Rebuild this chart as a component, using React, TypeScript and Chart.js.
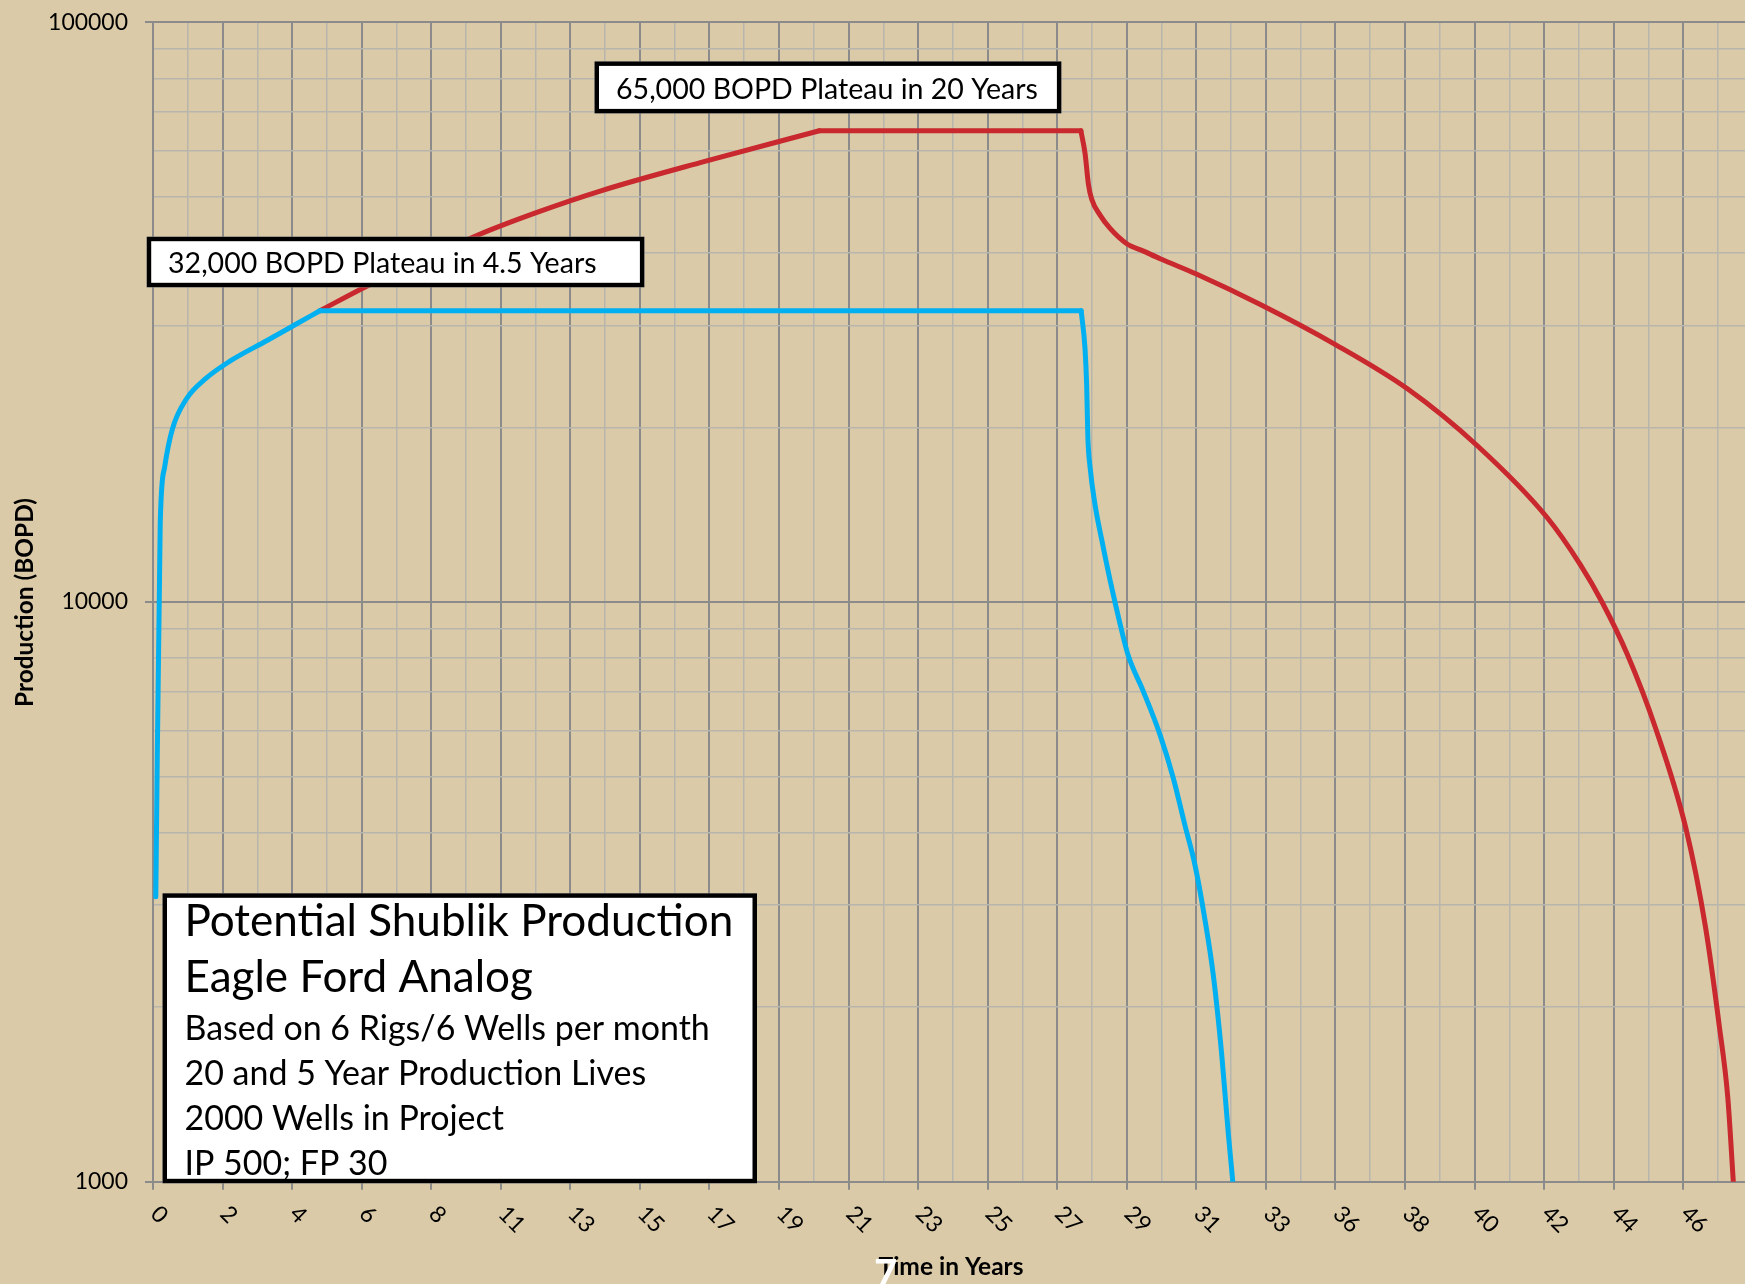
import React, { useEffect, useRef } from 'react';
import { Chart, registerables } from 'chart.js';

Chart.register(...registerables);

const W = 1745;
const H = 1284;
const FAMILY = 'Lato, "Open Sans", sans-serif';

// x axis: monthly categories, a labelled tick every 25 months (label = years)
const xTickLabels = ['0', '2', '4', '6', '8', '11', '13', '15', '17', '19', '21', '23', '25', '27', '29', '31', '33', '36', '38', '40', '42', '44', '46'];
const monthsPerTick = 25;
const xMaxMonth = 572.2;

// y axis (log) gridline values and labelled ones
const yGridValues = [1000, 2000, 3000, 4000, 5000, 6000, 7000, 8000, 9000, 10000, 20000, 30000, 40000, 50000, 60000, 70000, 80000, 90000, 100000];
const yLabelled = [1000, 10000, 100000];

// 5-year-life wells (blue)
const blueMonths = [1, 2.6, 4.2, 7, 12, 19, 27.5, 41, 52, 60, 333.6, 335, 335.6, 336, 336.8, 338.6, 341, 344, 347.6, 350.5, 355.9, 361.9, 366.7, 370.9, 374.5, 378.1, 381.1, 384.1, 386.5, 388.1];
const blueBopd = [3100, 13700, 17100, 19900, 22400, 24300, 26000, 28260, 30260, 31800, 31800, 27300, 23500, 19300, 17100, 14700, 12800, 10900, 9160, 8090, 7020, 5910, 4970, 4120, 3520, 2830, 2270, 1660, 1210, 1000];

// 20-year-life wells (red)
const redMonths = [60, 77, 117, 138, 161, 198, 239.5, 333.5, 335, 336.2, 337.4, 340.4, 344, 350, 356, 362, 375, 398, 425, 451, 476, 501, 513, 521, 530, 540, 551, 558, 563, 566, 568];
const redBopd = [31800, 35100, 43000, 47000, 51200, 57500, 65000, 65000, 59400, 52600, 49500, 46500, 44100, 41500, 40300, 39100, 36800, 32600, 27800, 23300, 18600, 14000, 11600, 9960, 8100, 6070, 4060, 2750, 1850, 1400, 1000];

const note65 = '65,000 BOPD Plateau in 20 Years';
const note32 = '32,000 BOPD Plateau in 4.5 Years';
const infoTitle = ['Potential Shublik Production', 'Eagle Ford Analog'];
const infoLines = ['Based on 6 Rigs/6 Wells per month', '20 and 5 Year Production Lives', '2000 Wells in Project', 'IP 500; FP 30'];
const xTitle = 'Time in Years';
const yTitle = 'Production (BOPD)';

const BG = '#dacaa8';
const MAJOR = '#8b8b8b';
const MINOR = '#b8b5ad';
const BLUE = '#00b0f0';
const RED = '#c8282e';

function fitSize(text: string, targetW: number, weight: string): number {
  const c = document.createElement('canvas').getContext('2d')!;
  c.font = `${weight} 100px ${FAMILY}`;
  return (100 * targetW) / c.measureText(text).width;
}

function isPow10(v: number) {
  const l = Math.log10(v);
  return Math.abs(l - Math.round(l)) < 1e-9;
}

// split a series into rise / plateau / decline pieces (at repeated values) so corners stay sharp
function pieces(months: number[], values: number[]) {
  const out: { x: number; y: number }[][] = [];
  let start = 0;
  for (let i = 0; i < values.length - 1; i++) {
    if (values[i] === values[i + 1]) {
      if (i > start) out.push(months.slice(start, i + 1).map((m, k) => ({ x: m, y: values[start + k] })));
      out.push([{ x: months[i], y: values[i] }, { x: months[i + 1], y: values[i + 1] }]);
      start = i + 1;
    }
  }
  out.push(months.slice(start).map((m, k) => ({ x: m, y: values[start + k] })));
  return out;
}

function drawBox(ctx: CanvasRenderingContext2D, x0: number, y0: number, x1: number, y1: number) {
  const lw = 4.5;
  ctx.save();
  ctx.fillStyle = '#ffffff';
  ctx.fillRect(x0, y0, x1 - x0, y1 - y0);
  ctx.strokeStyle = '#000000';
  ctx.lineWidth = lw;
  ctx.strokeRect(x0 + lw / 2, y0 + lw / 2, x1 - x0 - lw, y1 - y0 - lw);
  ctx.restore();
}

export default function App() {
  const ref = useRef<HTMLCanvasElement | null>(null);

  useEffect(() => {
    if (!ref.current) return;
    const tickSize = fitSize('100000', 80, 'normal');
    const xTitleSize = fitSize(xTitle, 145, 'bold');
    const yTitleSize = fitSize(yTitle, 209, 'bold');
    const noteSize = fitSize(note65, 422, 'normal');
    const bigSize = fitSize(infoTitle[0], 549, 'normal');
    const smallSize = fitSize(infoLines[0], 525.6, 'normal');

    const decor = {
      id: 'decor',
      beforeDraw(chart: any) {
        const ctx = chart.ctx as CanvasRenderingContext2D;
        ctx.save();
        ctx.fillStyle = BG;
        ctx.fillRect(0, 0, chart.width, chart.height);
        ctx.restore();
      },
      afterDraw(chart: any) {
        const ctx = chart.ctx as CanvasRenderingContext2D;
        const xs = chart.scales.x;
        const area = chart.chartArea;
        ctx.save();
        ctx.fillStyle = '#000';
        // x tick labels, rotated 45deg clockwise
        ctx.font = `normal ${tickSize}px ${FAMILY}`;
        ctx.textAlign = 'left';
        ctx.textBaseline = 'middle';
        xTickLabels.forEach((lab, i) => {
          const px = xs.getPixelForValue(i * monthsPerTick);
          ctx.save();
          ctx.translate(px + 1.5, area.bottom + 28.3);
          ctx.rotate(Math.PI / 4);
          ctx.fillText(lab, 0, 0);
          ctx.restore();
        });
        // axis titles
        ctx.font = `bold ${xTitleSize}px ${FAMILY}`;
        ctx.textAlign = 'center';
        ctx.textBaseline = 'alphabetic';
        ctx.fillText(xTitle, 951, 1275);
        ctx.save();
        ctx.translate(25, 602.5);
        ctx.rotate(-Math.PI / 2);
        ctx.font = `bold ${yTitleSize}px ${FAMILY}`;
        ctx.textBaseline = 'middle';
        ctx.fillText(yTitle, 0, 0);
        ctx.restore();

        // annotation boxes
        ctx.textAlign = 'left';
        ctx.textBaseline = 'alphabetic';
        drawBox(ctx, 594.5, 61.4, 1061.4, 113.4);
        ctx.fillStyle = '#000';
        ctx.font = `normal ${noteSize}px ${FAMILY}`;
        ctx.fillText(note65, 616, 99);

        drawBox(ctx, 146.7, 236.7, 644.4, 287.3);
        ctx.fillStyle = '#000';
        ctx.font = `normal ${noteSize}px ${FAMILY}`;
        ctx.fillText(note32, 168, 273);

        drawBox(ctx, 162.5, 893.3, 757, 1183.3);
        ctx.fillStyle = '#000';
        ctx.font = `normal ${bigSize}px ${FAMILY}`;
        ctx.fillText(infoTitle[0], 184.5, 935.5);
        ctx.fillText(infoTitle[1], 184.5, 991.5);
        ctx.font = `normal ${smallSize}px ${FAMILY}`;
        infoLines.forEach((t, i) => ctx.fillText(t, 184.5, 1040 + i * 45));

        // page number artefact
        ctx.fillStyle = '#ffffff';
        ctx.font = `bold 40px ${FAMILY}`;
        ctx.fillText('7', 874, 1288);
        ctx.restore();
      },
    };

    const lineStyle = (color: string) => ({
      borderColor: color,
      backgroundColor: color,
      borderWidth: 5,
      pointRadius: 0,
      cubicInterpolationMode: 'monotone',
      borderJoinStyle: 'round',
      borderCapStyle: 'round',
    });

    const datasets: any[] = [
      ...pieces(blueMonths, blueBopd).map((d) => ({ label: '5 year life', data: d, ...lineStyle(BLUE) })),
      ...pieces(redMonths, redBopd).map((d) => ({ label: '20 year life', data: d, ...lineStyle(RED) })),
    ];

    const chart = new Chart(ref.current, {
      type: 'line',
      data: { datasets },
      options: {
        responsive: false,
        animation: false,
        devicePixelRatio: 1,
        events: [],
        layout: { padding: { top: 22.3, left: 0, right: 0, bottom: 0 } },
        plugins: {
          legend: { display: false },
          tooltip: { enabled: false },
          title: { display: false },
        },
        scales: {
          x: {
            type: 'linear',
            min: 0,
            max: xMaxMonth,
            afterBuildTicks: (scale: any) => {
              const ticks: any[] = [];
              for (let v = 0; v <= xMaxMonth; v += monthsPerTick / 2) ticks.push({ value: v });
              scale.ticks = ticks;
            },
            afterFit: (scale: any) => {
              scale.height = H - 1181.7;
              scale.paddingLeft = 0;
              scale.paddingRight = 0;
            },
            ticks: { display: false, autoSkip: false },
            grid: {
              color: (c: any) => (c.tick && c.tick.value % monthsPerTick === 0 ? MAJOR : MINOR),
              lineWidth: (c: any) => (c.tick && c.tick.value % monthsPerTick === 0 ? 2 : 1.5),
              tickColor: (c: any) => (c.tick && c.tick.value % monthsPerTick === 0 ? MAJOR : 'rgba(0,0,0,0)'),
              tickLength: 8,
              drawTicks: true,
            },
            border: { display: true, color: MAJOR, width: 2 },
          },
          y: {
            type: 'logarithmic',
            min: 1000,
            max: 100000,
            afterBuildTicks: (scale: any) => {
              scale.ticks = yGridValues.map((v) => ({ value: v }));
            },
            afterFit: (scale: any) => {
              scale.width = 153;
              scale.paddingTop = 0;
              scale.paddingBottom = 0;
            },
            ticks: {
              autoSkip: false,
              padding: 17,
              color: '#000',
              font: { family: FAMILY, size: tickSize, weight: 'normal' },
              callback: (v: any) => (yLabelled.indexOf(Number(v)) >= 0 ? String(v) : ''),
            },
            grid: {
              color: (c: any) => (c.tick && isPow10(c.tick.value) ? MAJOR : MINOR),
              lineWidth: (c: any) => (c.tick && isPow10(c.tick.value) ? 2 : 1.5),
              tickColor: (c: any) => (c.tick && isPow10(c.tick.value) ? MAJOR : 'rgba(0,0,0,0)'),
              tickLength: 8,
            },
            border: { display: true, color: MAJOR, width: 2 },
          },
        },
      } as any,
      plugins: [decor],
    });
    return () => chart.destroy();
  }, []);

  return (
    <div style={{ position: 'fixed', left: 0, top: 0, width: W, height: H, background: BG, overflow: 'hidden' }}>
      <canvas ref={ref} width={W} height={H} style={{ display: 'block' }} />
    </div>
  );
}
